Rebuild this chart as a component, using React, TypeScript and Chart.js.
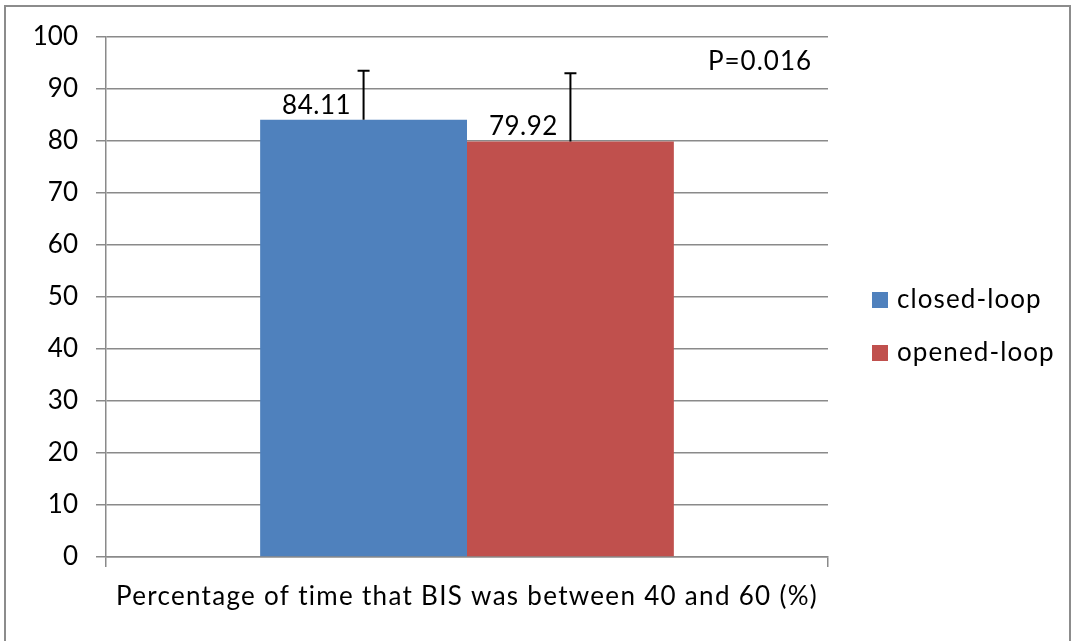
import React, { useEffect, useRef } from "react";
import { Chart, registerables } from "chart.js";

Chart.register(...registerables);

const categories = ["Percentage of time that BIS was between 40 and 60 (%)"];
const seriesNames = ["closed-loop", "opened-loop"];
const closedLoop = [84.11];
const openedLoop = [79.92];
const errorsUp = [9.4, 13.1];
const valueLabels = ["84.11", "79.92"];
const yTicks = [0, 10, 20, 30, 40, 50, 60, 70, 80, 90, 100];
const pValueText = "P=0.016";
const colors = ["#4F81BD", "#C0504D"];

const FONT = "Lato, 'Open Sans', sans-serif";
const GRID = "#8a8a8a";

const overlay = {
  id: "overlay",
  afterDatasetsDraw(chart: any) {
    const ctx = chart.ctx;
    const ys = chart.scales.y;
    const area = chart.chartArea;
    ctx.save();
    // error bars and labels
    chart.data.datasets.forEach((ds: any, i: number) => {
      const meta = chart.getDatasetMeta(i);
      meta.data.forEach((bar: any, j: number) => {
        const v = ds.data[j];
        const top = ys.getPixelForValue(v + errorsUp[i]);
        ctx.strokeStyle = "#000";
        ctx.lineWidth = 2;
        ctx.beginPath();
        ctx.moveTo(bar.x, bar.y);
        ctx.lineTo(bar.x, top);
        ctx.moveTo(bar.x - 6, top);
        ctx.lineTo(bar.x + 6, top);
        ctx.stroke();
        ctx.fillStyle = "#000";
        ctx.font = `26px ${FONT}`;
        ctx.textAlign = "center";
        ctx.textBaseline = "alphabetic";
        (ctx as any).letterSpacing = "0.5px";
        ctx.fillText(valueLabels[i], bar.x - 47, bar.y - 6);
      });
    });
    ctx.font = `26px ${FONT}`;
    ctx.textBaseline = "middle";
    ctx.fillStyle = "#000";
    // p-value
    ctx.textAlign = "center";
    (ctx as any).letterSpacing = "1px";
    ctx.fillText(pValueText, 760, 62);
    // x axis title
    (ctx as any).letterSpacing = "1.3px";
    ctx.fillText(categories[0], (area.left + area.right) / 2, 597);
    // legend
    (ctx as any).letterSpacing = "1.1px";
    seriesNames.forEach((name, i) => {
      const cy = 300 + i * 53;
      ctx.fillStyle = colors[i];
      ctx.fillRect(872, cy - 8, 16, 16);
      ctx.fillStyle = "#000";
      ctx.textAlign = "left";
      ctx.fillText(name, 897, cy);
    });
    ctx.restore();
  },
  beforeDraw(chart: any) {
    const ctx = chart.ctx;
    ctx.save();
    ctx.fillStyle = "#fff";
    ctx.fillRect(0, 0, chart.width, chart.height);
    ctx.strokeStyle = "#8c8c8c";
    ctx.lineWidth = 2;
    ctx.strokeRect(5, 6, 1065, 660);
    ctx.restore();
  },
};

export default function App() {
  const ref = useRef<HTMLCanvasElement>(null);
  useEffect(() => {
    const chart = new Chart(ref.current!, {
      type: "bar",
      data: {
        labels: categories,
        datasets: [
          { label: seriesNames[0], data: closedLoop, backgroundColor: colors[0] },
          { label: seriesNames[1], data: openedLoop, backgroundColor: colors[1] },
        ],
      },
      plugins: [overlay],
      options: {
        responsive: false,
        animation: false,
        datasets: { bar: { barPercentage: 1, categoryPercentage: 0.573 } },
        layout: { padding: { left: 0, top: 37, right: 245, bottom: 64 } },
        plugins: { legend: { display: false }, tooltip: { enabled: false } },
        scales: {
          x: {
            ticks: { display: false },
            grid: {
              display: true,
              drawOnChartArea: false,
              drawTicks: true,
              tickLength: 10,
              color: GRID,
              lineWidth: 1.5,
              offset: true,
            },
            border: { display: true, color: GRID, width: 1.5 },
            afterFit: (s: any) => {
              s.height = 20;
            },
          },
          y: {
            min: 0,
            max: 100,
            afterBuildTicks: (s: any) => {
              s.ticks = yTicks.map((v) => ({ value: v }));
            },
            ticks: {
              padding: 18,
              color: "#000",
              font: { family: FONT, size: 26 },
            },
            grid: { color: GRID, lineWidth: 1.5, tickLength: 10 },
            border: { display: true, color: GRID, width: 1.5 },
            afterFit: (s: any) => {
              s.width = 106;
            },
          },
        },
      },
    });
    return () => chart.destroy();
  }, []);
  return (
    <div style={{ position: "fixed", left: 0, top: 0, width: 1073, height: 641 }}>
      <canvas ref={ref} width={1073} height={641} style={{ display: "block" }} />
    </div>
  );
}
